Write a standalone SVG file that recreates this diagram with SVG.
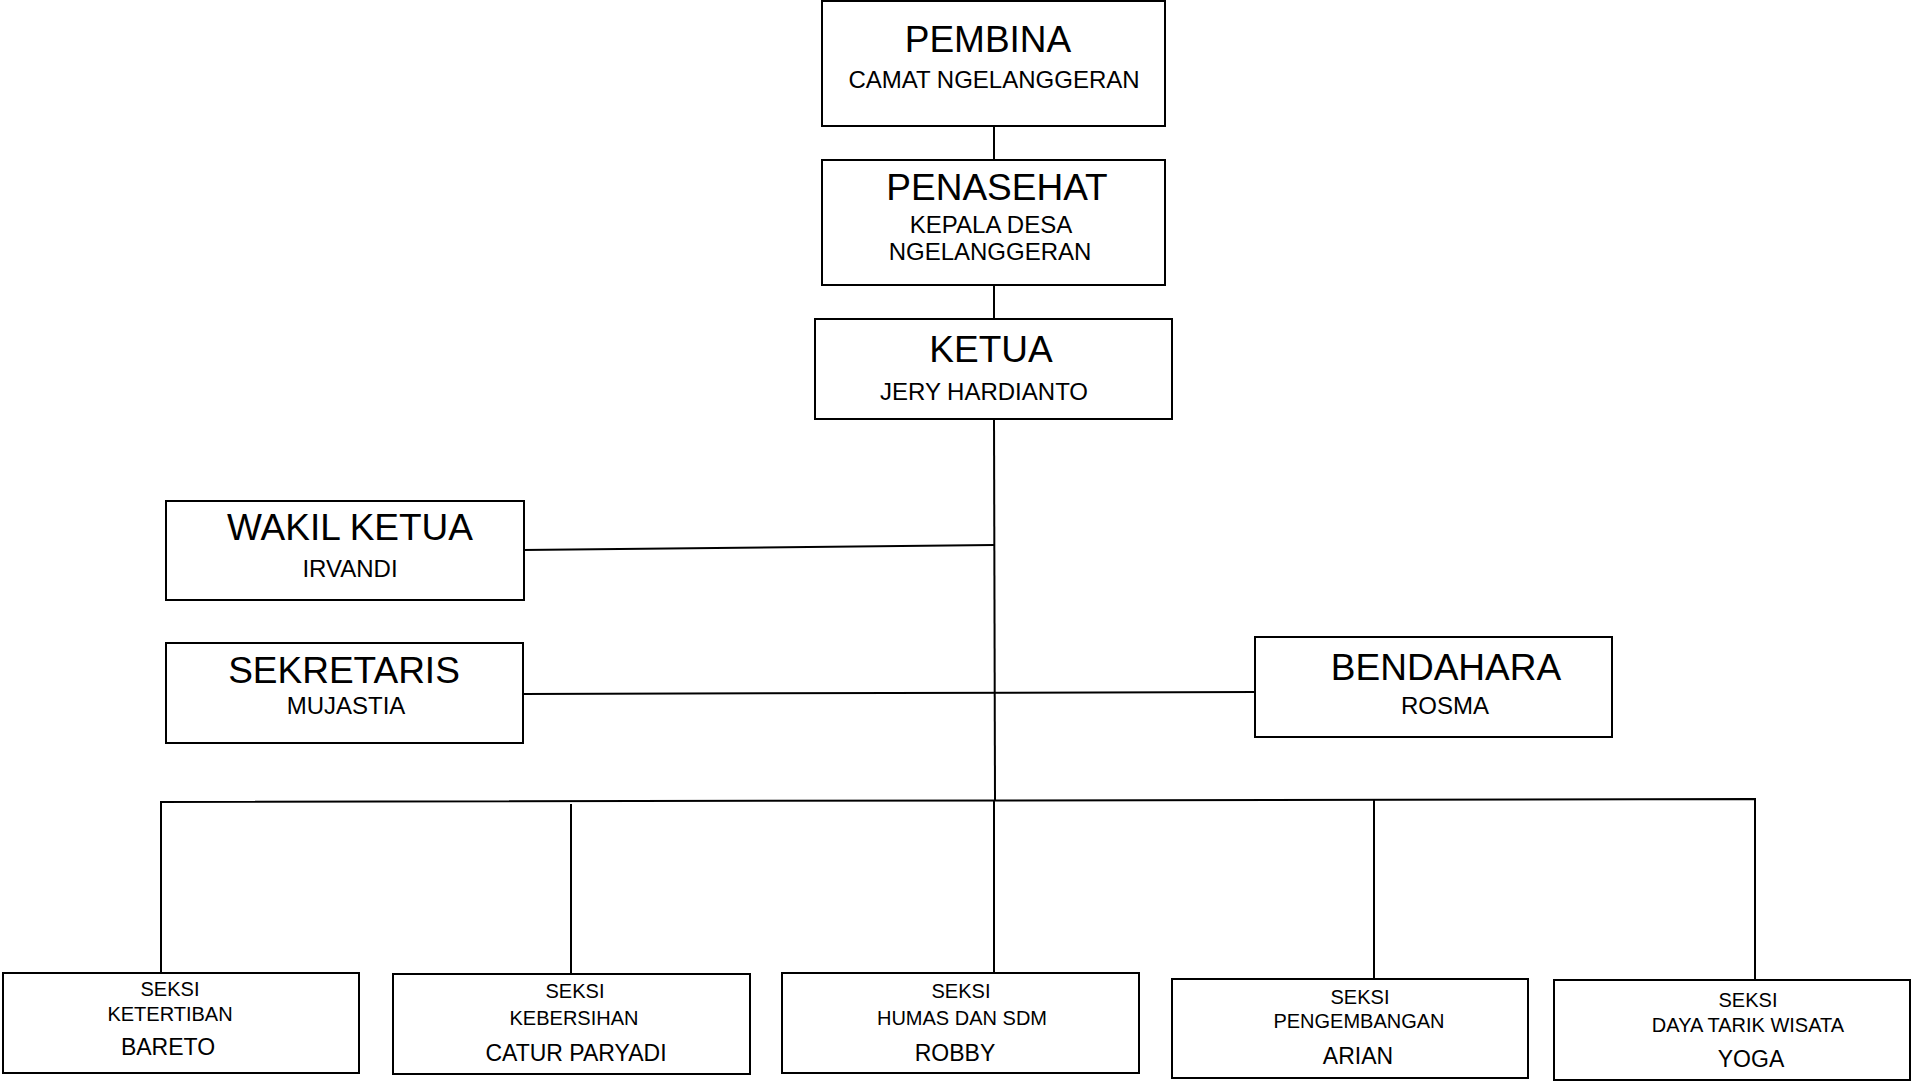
<svg xmlns="http://www.w3.org/2000/svg" width="1912" height="1083" viewBox="0 0 1912 1083">
<style>
.box{fill:#fff;stroke:#000;stroke-width:2}
.ln{fill:none;stroke:#000;stroke-width:2}
text{font-family:"Liberation Sans",Arial,sans-serif;fill:#000;text-anchor:middle}
.t{font-size:37px}
.s{font-size:24px}
.k{font-size:20px}
.n{font-size:23px}
</style>
<rect width="1912" height="1083" fill="#fff"/>
<g id="connectors">
<line class="ln" x1="994" y1="126" x2="994" y2="160"/>
<line class="ln" x1="994" y1="285" x2="994" y2="319"/>
<line class="ln" x1="994" y1="418" x2="995" y2="800"/>
<line class="ln" x1="523" y1="550" x2="994" y2="545"/>
<line class="ln" x1="522" y1="694" x2="1255" y2="692"/>
<polyline class="ln" points="161,973 161,802 1755,799 1755,980"/>
<line class="ln" x1="571" y1="804" x2="571" y2="974"/>
<line class="ln" x1="994" y1="800" x2="994" y2="973"/>
<line class="ln" x1="1374" y1="800" x2="1374" y2="979"/>
</g>
<g id="pembina">
<rect class="box" x="822" y="1" width="343" height="125"/>
<text class="t" x="988" y="52">PEMBINA</text>
<text class="s" x="994" y="88">CAMAT NGELANGGERAN</text>
</g>
<g id="penasehat">
<rect class="box" x="822" y="160" width="343" height="125"/>
<text class="t" x="997" y="200">PENASEHAT</text>
<text class="s" x="991" y="233">KEPALA DESA</text>
<text class="s" x="990" y="260">NGELANGGERAN</text>
</g>
<g id="ketua">
<rect class="box" x="815" y="319" width="357" height="100"/>
<text class="t" x="991" y="362">KETUA</text>
<text class="s" x="984" y="400">JERY HARDIANTO</text>
</g>
<g id="wakil">
<rect class="box" x="166" y="501" width="358" height="99"/>
<text class="t" x="350" y="540">WAKIL KETUA</text>
<text class="s" x="350" y="577">IRVANDI</text>
</g>
<g id="sekretaris">
<rect class="box" x="166" y="643" width="357" height="100"/>
<text class="t" x="344" y="683">SEKRETARIS</text>
<text class="s" x="346" y="714">MUJASTIA</text>
</g>
<g id="bendahara">
<rect class="box" x="1255" y="637" width="357" height="100"/>
<text class="t" x="1446" y="680">BENDAHARA</text>
<text class="s" x="1445" y="714">ROSMA</text>
</g>
<g id="ketertiban">
<rect class="box" x="3" y="973" width="356" height="100"/>
<text class="k" x="170" y="996">SEKSI</text>
<text class="k" x="170" y="1021">KETERTIBAN</text>
<text class="n" x="168" y="1055">BARETO</text>
</g>
<g id="kebersihan">
<rect class="box" x="393" y="974" width="357" height="100"/>
<text class="k" x="575" y="998">SEKSI</text>
<text class="k" x="574" y="1025">KEBERSIHAN</text>
<text class="n" x="576" y="1061">CATUR PARYADI</text>
</g>
<g id="humas">
<rect class="box" x="782" y="973" width="357" height="100"/>
<text class="k" x="961" y="998">SEKSI</text>
<text class="k" x="962" y="1025">HUMAS DAN SDM</text>
<text class="n" x="955" y="1061">ROBBY</text>
</g>
<g id="pengembangan">
<rect class="box" x="1172" y="979" width="356" height="99"/>
<text class="k" x="1360" y="1004">SEKSI</text>
<text class="k" x="1359" y="1028">PENGEMBANGAN</text>
<text class="n" x="1358" y="1064">ARIAN</text>
</g>
<g id="dayatarik">
<rect class="box" x="1554" y="980" width="356" height="100"/>
<text class="k" x="1748" y="1007">SEKSI</text>
<text class="k" x="1748" y="1032">DAYA TARIK WISATA</text>
<text class="n" x="1751" y="1067">YOGA</text>
</g>
</svg>
